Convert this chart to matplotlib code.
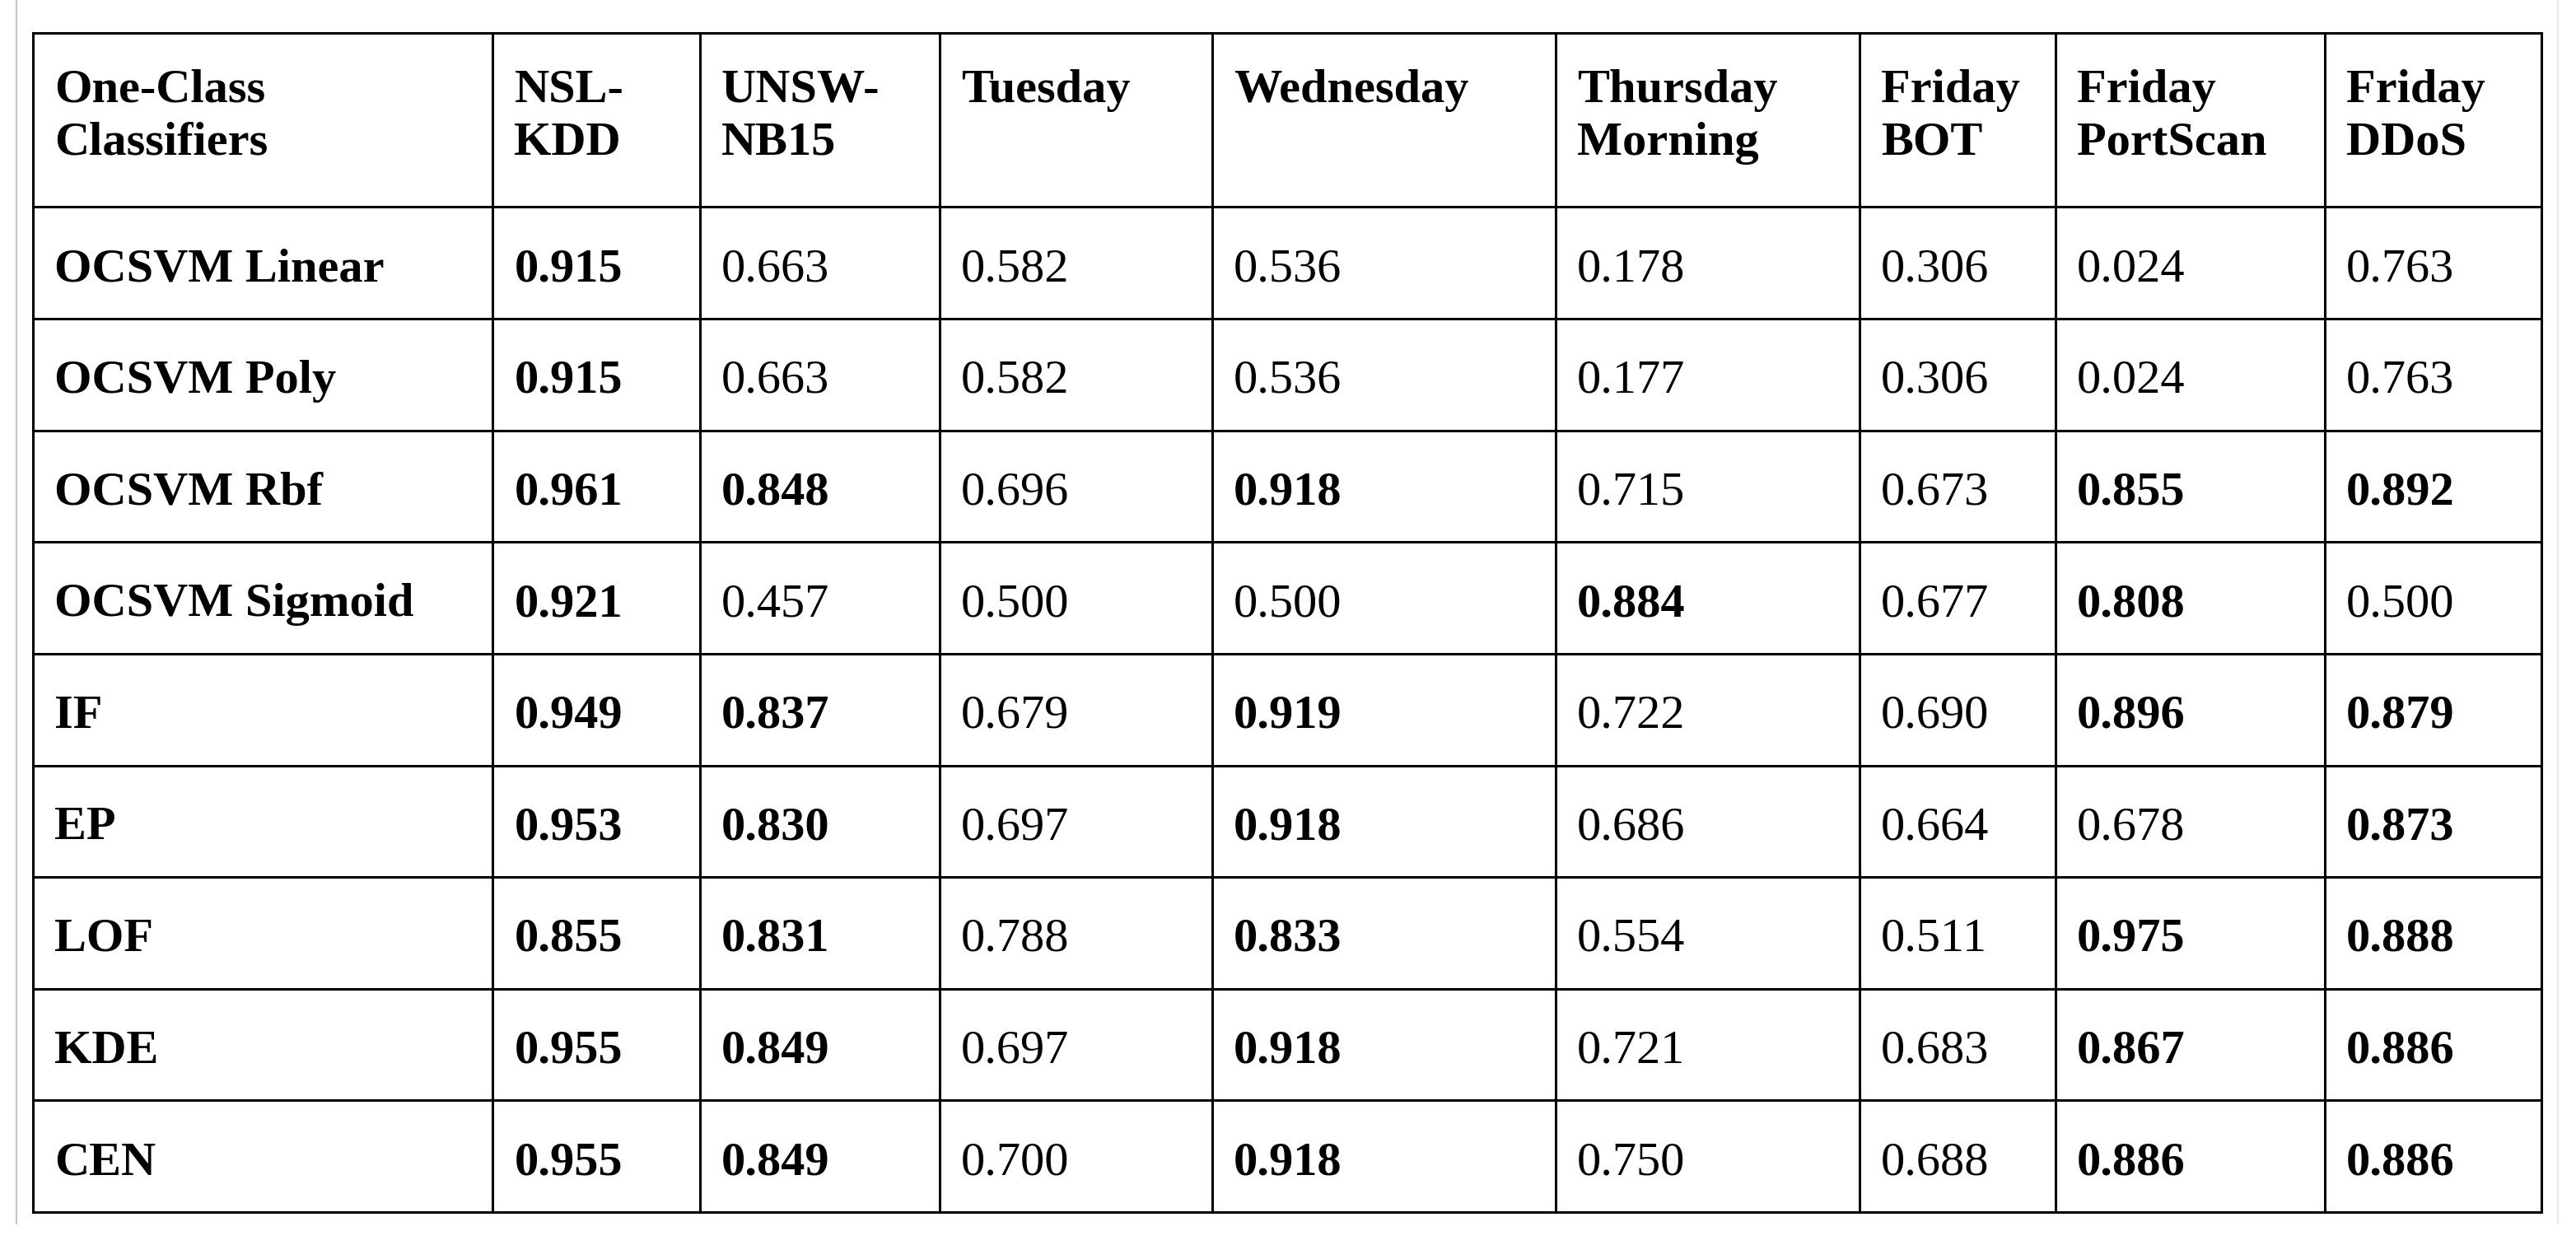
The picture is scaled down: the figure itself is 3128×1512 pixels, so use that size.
import matplotlib.pyplot as plt

headers = ["One-Class\nClassifiers", "NSL-\nKDD", "UNSW-\nNB15", "Tuesday", "Wednesday",
           "Thursday\nMorning", "Friday\nBOT", "Friday\nPortScan", "Friday\nDDoS"]
classifiers = ["OCSVM Linear", "OCSVM Poly", "OCSVM Rbf", "OCSVM Sigmoid",
               "IF", "EP", "LOF", "KDE", "CEN"]
nsl_kdd = [0.915, 0.915, 0.961, 0.921, 0.949, 0.953, 0.855, 0.955, 0.955]
unsw_nb15 = [0.663, 0.663, 0.848, 0.457, 0.837, 0.830, 0.831, 0.849, 0.849]
tuesday = [0.582, 0.582, 0.696, 0.500, 0.679, 0.697, 0.788, 0.697, 0.700]
wednesday = [0.536, 0.536, 0.918, 0.500, 0.919, 0.918, 0.833, 0.918, 0.918]
thursday = [0.178, 0.177, 0.715, 0.884, 0.722, 0.686, 0.554, 0.721, 0.750]
friday_bot = [0.306, 0.306, 0.673, 0.677, 0.690, 0.664, 0.511, 0.683, 0.688]
friday_portscan = [0.024, 0.024, 0.855, 0.808, 0.896, 0.678, 0.975, 0.867, 0.886]
friday_ddos = [0.763, 0.763, 0.892, 0.500, 0.879, 0.873, 0.888, 0.886, 0.886]
columns = [nsl_kdd, unsw_nb15, tuesday, wednesday, thursday,
           friday_bot, friday_portscan, friday_ddos]

# layout (in reference display pixels, 1568 x 758)
col_edges = [20, 300, 426, 572, 738, 947, 1132, 1251, 1415, 1547]
row_edges = [20, 126, 194, 262, 330, 398, 466, 534, 602, 670, 738]

plt.rcParams['font.family'] = ['Liberation Serif', 'DejaVu Serif']
fig = plt.figure(figsize=(31.28, 15.12), dpi=100)
ax = fig.add_axes([0, 0, 1, 1])
ax.set_xlim(0, 1568)
ax.set_ylim(758, 0)
ax.axis('off')

# faint page border on the left
ax.plot([10, 10], [0, 745], color='#c8c8c8', lw=1.5)
ax.plot([1557, 1557], [0, 745], color='#e8e8e8', lw=1.5)

for x in col_edges:
    ax.plot([x, x], [row_edges[0], row_edges[-1]], color='black', lw=2.2)
for y in row_edges:
    ax.plot([col_edges[0], col_edges[-1]], [y, y], color='black', lw=2.2)

fs = 42
pad = 13
for j, h in enumerate(headers):
    ax.text(col_edges[j] + pad, row_edges[0] + 22, h, fontsize=fs, fontweight='bold',
            va='top', ha='left', linespacing=1.3)

for i, name in enumerate(classifiers):
    yc = (row_edges[i + 1] + row_edges[i + 2]) / 2 + 4
    ax.text(col_edges[0] + pad, yc, name, fontsize=fs, fontweight='bold', va='center', ha='left')
    for j, col in enumerate(columns):
        v = col[i]
        ax.text(col_edges[j + 1] + pad, yc, f"{v:.3f}", fontsize=fs,
                fontweight='bold' if v >= 0.8 else 'normal', va='center', ha='left')

fig.savefig("out.png", dpi=100, facecolor='white')
